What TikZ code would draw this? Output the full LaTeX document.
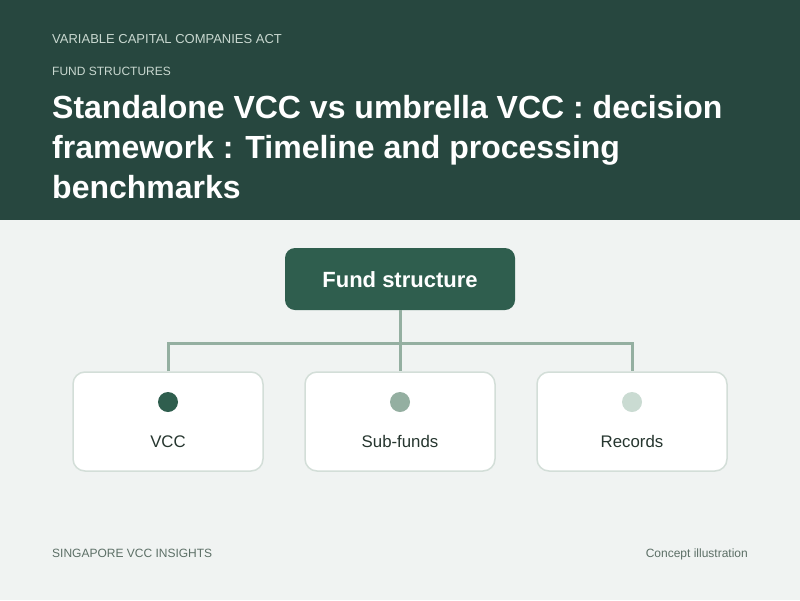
\documentclass[tikz,border=0pt]{standalone}
\usepackage{fontspec}
\setmainfont{Liberation Sans}
\definecolor{hdr}{HTML}{27473F}
\definecolor{bg}{HTML}{F0F3F2}
\definecolor{rootc}{HTML}{2F5E4E}
\definecolor{linec}{HTML}{94AFA1}
\definecolor{dotc}{HTML}{CADBD2}
\definecolor{bord}{HTML}{D3DED8}
\definecolor{hdrtxt}{HTML}{C9D8D0}
\definecolor{foot}{HTML}{5C6F66}
\definecolor{childtxt}{HTML}{26362F}
\tikzset{
  rootbox/.style={draw=none, fill=rootc, rounded corners=10pt, minimum width=230pt, minimum height=62pt, inner sep=0pt},
  rootlabel/.style={inner sep=0pt, text=white, font=\fontsize{22}{26}\selectfont\bfseries, anchor=base},
  childbox/.style={draw=bord, line width=1.5pt, fill=white, rounded corners=12pt, minimum width=190pt, minimum height=99pt, inner sep=0pt},
  childlabel/.style={text=childtxt, font=\fontsize{16.8}{19}\selectfont, inner sep=0pt, anchor=base},
  dotmark/.style={circle, minimum size=20pt, inner sep=0pt, draw=none},
  conn/.style={draw=linec, line width=3pt},
  smallcap/.style={anchor=base west, inner sep=0pt, text=hdrtxt},
  titleline/.style={anchor=base west, inner sep=0pt, text=white, font=\fontsize{32}{40}\selectfont\bfseries},
  footer/.style={inner sep=0pt, text=foot, font=\fontsize{12}{14}\selectfont}
}
\begin{document}
\begin{tikzpicture}[x=1pt,y=-1pt]
\useasboundingbox (0,0) rectangle (800,600);
\fill[bg] (0,0) rectangle (800,600);
\fill[hdr] (0,0) rectangle (800,220);
\node[smallcap, font=\fontsize{13}{15}\selectfont] (kicker) at (52,43.2) {VARIABLE CAPITAL COMPANIES ACT};
\node[smallcap, font=\fontsize{12}{14}\selectfont] (sub) at (52,75.8) {FUND STRUCTURES};
\node[titleline] (t1) at (52,118) {Standalone VCC vs umbrella VCC : decision};
\node[titleline] (t2) at (52,158) {framework : Timeline and processing};
\node[titleline] (t3) at (52,198) {benchmarks};
\node[rootbox] (root) at (400,279) {};
\node[rootlabel] (rootl) at (400,287) {Fund structure};
\node[childbox] (c1) at (168,421.5) {};
\node[childbox] (c2) at (400,421.5) {};
\node[childbox] (c3) at (632,421.5) {};
\draw[conn] (root.south) -- (c2.north);
\draw[conn] (c1.north) -- ++(0,-28) -| (c3.north);
\node[dotmark, fill=rootc] (d1) at (168,402) {};
\node[dotmark, fill=linec] (d2) at (400,402) {};
\node[dotmark, fill=dotc] (d3) at (632,402) {};
\node[childlabel] (l1) at (168,447) {VCC};
\node[childlabel] (l2) at (400,447) {Sub-funds};
\node[childlabel] (l3) at (632,447) {Records};
\node[footer, anchor=base west] (fl) at (52,557.8) {SINGAPORE VCC INSIGHTS};
\node[footer, anchor=base east] (fr) at (748,557.8) {Concept illustration};
\end{tikzpicture}
\end{document}
